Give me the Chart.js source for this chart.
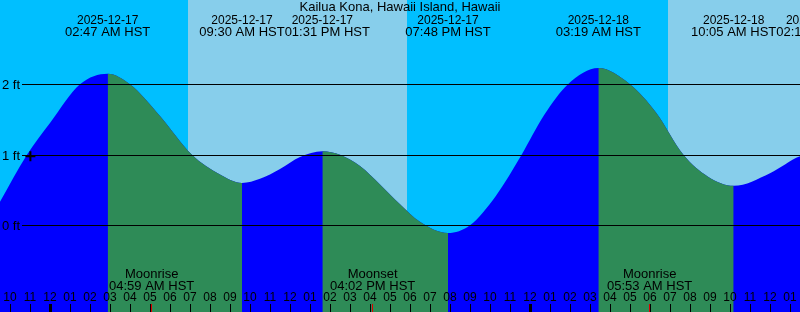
<!DOCTYPE html>
<html>
<head>
<meta charset="utf-8">
<script src="https://cdn.jsdelivr.net/npm/chart.js"></script>
<style>
  html, body { margin: 0; padding: 0; background: #00bfff; }
  #wrap { width: 800px; height: 312px; }
</style>
</head>
<body>
<div id="wrap"><canvas id="tide" width="800" height="312"></canvas></div>
<script>
// hours are counted from 2025-12-17 00:00 HST, heights in feet
const tideHours = [-2.6, -1.25, -0.1, 1.4, 2.783, 3.9, 5.4, 7.0, 8.4, 9.5, 10.4, 11.4, 12.4, 13.517, 14.4, 15.4, 16.4, 17.4, 18.4, 19.8,
                   20.9, 22.2, 23.48, 24.6, 25.8, 27.317, 28.9, 30.2, 31.57, 32.8, 34.083, 35.9, 37.4, 38.23];
const tideFeet  = [0.335, 1.0, 1.45, 2.0, 2.15, 2.0, 1.55, 1.0, 0.72, 0.60, 0.66, 0.80, 0.97, 1.05, 1.0, 0.84, 0.58, 0.30, 0.05, -0.11,
                   0.0, 0.42, 1.0, 1.56, 2.0, 2.23, 2.0, 1.6, 1.0, 0.69, 0.56, 0.74, 0.98, 1.02];

const eventHours = [2.783, 9.5, 13.517, 19.8, 27.317, 34.083, 38.23];
const eventDates = ['2025-12-17', '2025-12-17', '2025-12-17', '2025-12-17', '2025-12-18', '2025-12-18', '2025-12-18'];
const eventTimes = ['02:47 AM HST', '09:30 AM HST', '01:31 PM HST', '07:48 PM HST', '03:19 AM HST', '10:05 AM HST', '02:14 PM HST'];

const dayStart = [6.8, 30.8];
const dayEnd   = [17.73, 40];

const moonHours = [4.983, 16.033, 29.883];
const moonNames = ['Moonrise', 'Moonset', 'Moonrise'];
const moonTimes = ['04:59 AM HST', '04:02 PM HST', '05:53 AM HST'];

const footLines  = [0, 1, 2];
const footLabels = ['0 ft', '1 ft', '2 ft'];

const firstTickHour = -2;
const hourLabels = ['10', '11', '12', '01', '02', '03', '04', '05', '06', '07', '08', '09',
                    '10', '11', '12', '01', '02', '03', '04', '05', '06', '07', '08', '09',
                    '10', '11', '12', '01', '02', '03', '04', '05', '06', '07', '08', '09',
                    '10', '11', '12', '01'];
const midnights = [0, 24];

const nowPoint = { x: -1.08, y: 0.98 };
const title = 'Kailua Kona, Hawaii Island, Hawaii';

const blue = '#0000ff', green = '#2e8b57', night = '#00bfff', day = '#87ceeb';
const font13 = '13px "Liberation Sans", Arial, sans-serif';
const font12 = '12px "Liberation Sans", Arial, sans-serif';

const backdrop = {
  id: 'backdrop',
  beforeDraw(chart) {
    const { ctx, chartArea: a, scales: { x } } = chart;
    ctx.save();
    ctx.fillStyle = night;
    ctx.fillRect(a.left, a.top, a.width, a.height);
    ctx.fillStyle = day;
    dayStart.forEach((s, i) => {
      const x0 = Math.round(x.getPixelForValue(s));
      const x1 = Math.round(x.getPixelForValue(dayEnd[i]));
      ctx.fillRect(x0, a.top, x1 - x0, a.height);
    });
    ctx.restore();
  }
};

const overlay = {
  id: 'overlay',
  afterDatasetsDraw(chart) {
    const { ctx, chartArea: a, scales: { x, y } } = chart;
    ctx.save();
    ctx.fillStyle = '#000';
    ctx.textBaseline = 'alphabetic';
    ctx.font = font13;

    // level lines + labels
    footLines.forEach((f, i) => {
      const py = Math.round(y.getPixelForValue(f));
      ctx.fillRect(22, py, a.right - 22, 1);
      ctx.textAlign = 'left';
      ctx.fillText(footLabels[i], 2, py + 5);
    });

    // title
    ctx.textAlign = 'center';
    ctx.fillText(title, 400, 11);

    // tide event labels
    let prevDate = -Infinity, prevTime = -Infinity;
    ctx.textAlign = 'left';
    eventHours.forEach((h, i) => {
      const cx = x.getPixelForValue(h);
      ctx.font = font12;
      const wd = ctx.measureText(eventDates[i]).width;
      const ld = Math.max(cx - wd / 2, prevDate);
      ctx.fillText(eventDates[i], ld, 24);
      ctx.font = font13;
      const wt = ctx.measureText(eventTimes[i]).width;
      const lt = Math.max(cx - wt / 2, prevTime);
      ctx.fillText(eventTimes[i], lt, 36);
      prevDate = ld + wd;
      prevTime = lt + wt;
    });

    // moon events
    ctx.textAlign = 'center';
    moonHours.forEach((h, i) => {
      const cx = x.getPixelForValue(h);
      ctx.fillText(moonNames[i], cx, 278);
      ctx.fillText(moonTimes[i], cx, 290);
    });

    // hour ticks
    ctx.font = font12;
    hourLabels.forEach((lab, i) => {
      const h = firstTickHour + i;
      const px = Math.round(x.getPixelForValue(h)) - 2;
      ctx.fillText(lab, px, 301);
      if (midnights.includes(h)) ctx.fillRect(px - 1, 304, 3, 8);
      else ctx.fillRect(px, 304, 1, 8);
    });
    ctx.fillStyle = '#e00000';
    moonHours.forEach(h => {
      const px = Math.round(x.getPixelForValue(h)) - 1;
      ctx.fillRect(px, 304, 1, 8);
    });
    ctx.restore();
  }
};

const tidePoints = tideHours.map((h, i) => ({ x: h, y: tideFeet[i] }));

new Chart(document.getElementById('tide'), {
  type: 'line',
  data: {
    datasets: [
      {
        type: 'scatter',
        data: [nowPoint],
        pointStyle: 'cross',
        pointRadius: 5,
        borderColor: '#000',
        borderWidth: 2
      },
      {
        // falling tide painted green over the blue base
        data: tidePoints,
        fill: 'start',
        backgroundColor: green,
        borderColor: 'rgba(0,0,0,0)',
        borderWidth: 0,
        pointRadius: 0,
        cubicInterpolationMode: 'monotone',
        segment: {
          backgroundColor: c => c.p1.parsed.y >= c.p0.parsed.y ? 'rgba(0,0,0,0)' : green
        }
      },
      {
        data: tidePoints,
        fill: 'start',
        backgroundColor: blue,
        borderColor: 'rgba(0,0,0,0)',
        borderWidth: 0,
        pointRadius: 0,
        cubicInterpolationMode: 'monotone'
      }
    ]
  },
  options: {
    responsive: false,
    animation: false,
    events: [],
    layout: { padding: 0, autoPadding: false },
    plugins: { legend: { display: false }, tooltip: { enabled: false } },
    scales: {
      x: { type: 'linear', min: -2.6, max: 37.4, display: false },
      y: { min: -1.2295, max: 3.196, display: false }
    }
  },
  plugins: [backdrop, overlay]
});
</script>
</body>
</html>
